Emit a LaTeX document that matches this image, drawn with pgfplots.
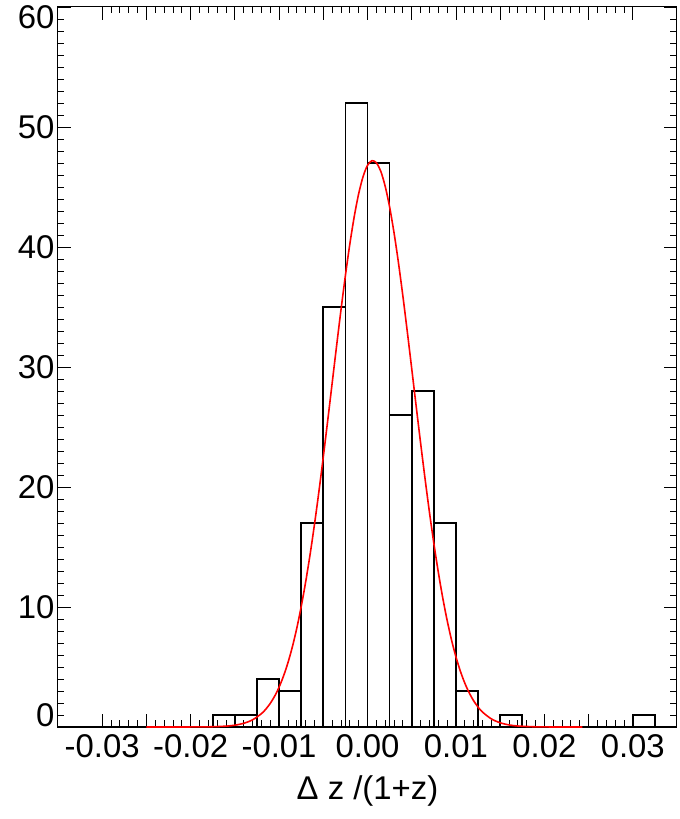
\documentclass[border=0pt]{standalone}
\usepackage{pgfplots}
\pgfplotsset{compat=1.18}
\usepackage{fontspec}
\setmainfont{Liberation Sans}
\usetikzlibrary{calc}

\begin{document}
\begin{tikzpicture}
\begin{axis}[
    scale only axis,
    width=619bp, height=720bp,
    xmin=-0.035, xmax=0.035,
    ymin=0, ymax=60,
    clip=false,
    scaled x ticks=false,
    axis line style={black, line width=1bp},
    tick style={black, line width=0.8bp},
    tick align=inside,
    xtick={-0.03,-0.025,-0.02,-0.015,-0.01,-0.005,0,0.005,0.01,0.015,0.02,0.025,0.03},
    xticklabels={-0.03,{},-0.02,{},-0.01,{},0.00,{},0.01,{},0.02,{},0.03},
    minor x tick num=4,
    ytick={0,10,20,30,40,50,60},
    yticklabels={{\rule[-23bp]{0pt}{23bp}0},10,20,30,40,50,{60\rule{0pt}{44bp}}},
    minor y tick num=9,
    major tick length=13bp,
    minor tick length=6.5bp,
    ticklabel style={font=\fontsize{33}{38}\selectfont},
    xticklabel style={yshift=-4bp},
    xlabel={Δ z /(1+z)},
    xlabel style={font=\fontsize{33}{38}\selectfont, at={(axis description cs:0.5,0)},
        anchor=north, yshift=-45bp},
]
% histogram, bin width 0.0025
\addplot[ybar interval, draw=black, fill=none, line width=1.7bp] coordinates {
    (-0.035,0) (-0.0325,0) (-0.03,0) (-0.0275,0) (-0.025,0) (-0.0225,0) (-0.02,0)
    (-0.0175,1) (-0.015,1) (-0.0125,4) (-0.01,3) (-0.0075,17) (-0.005,35)
    (-0.0025,52) (0,47) (0.0025,26) (0.005,28) (0.0075,17) (0.01,3)
    (0.0125,0) (0.015,1) (0.0175,0) (0.02,0) (0.0225,0) (0.025,0) (0.0275,0)
    (0.03,1) (0.0325,0) (0.035,0)
};
% gaussian fit
\addplot[red, line width=1.6bp, smooth, tension=0.5] coordinates {
    (-0.025,0) (-0.021,0.002) (-0.019,0.008) (-0.018,0.013) (-0.016,0.070) (-0.015,0.150)
    (-0.014,0.306) (-0.013,0.597) (-0.012,1.109) (-0.0115,1.485) (-0.011,1.963)
    (-0.0105,2.568) (-0.010,3.317) (-0.0095,4.239) (-0.009,5.348) (-0.0085,6.670)
    (-0.008,8.218) (-0.0075,10.02) (-0.007,12.06) (-0.0065,14.34) (-0.006,16.86)
    (-0.0055,19.59) (-0.005,22.50) (-0.0045,25.53) (-0.004,28.63) (-0.0035,31.73)
    (-0.003,34.75) (-0.0025,37.61) (-0.002,40.23) (-0.0015,42.53) (-0.001,44.43)
    (-0.0005,45.87) (0,46.80) (0.0005,47.19) (0.001,47.02) (0.0015,46.31)
    (0.002,45.06) (0.0025,43.34) (0.003,41.19) (0.0035,38.69) (0.004,35.92)
    (0.0045,32.95) (0.005,29.87) (0.0055,26.76) (0.006,23.70) (0.0065,20.74)
    (0.007,17.93) (0.0075,15.32) (0.008,12.94) (0.0085,10.80) (0.009,8.910)
    (0.0095,7.262) (0.010,5.850) (0.0105,4.657) (0.011,3.664) (0.0115,2.849)
    (0.012,2.189) (0.0125,1.662) (0.013,1.247) (0.014,0.678) (0.015,0.352)
    (0.016,0.174) (0.017,0.082) (0.019,0.016) (0.021,0.003) (0.0243,0)
};
\end{axis}
\pgfresetboundingbox
\path[use as bounding box] ($(current axis.south west)+(-58bp,-92bp)$) rectangle ($(current axis.north east)+(3bp,7bp)$);
\end{tikzpicture}
\end{document}
